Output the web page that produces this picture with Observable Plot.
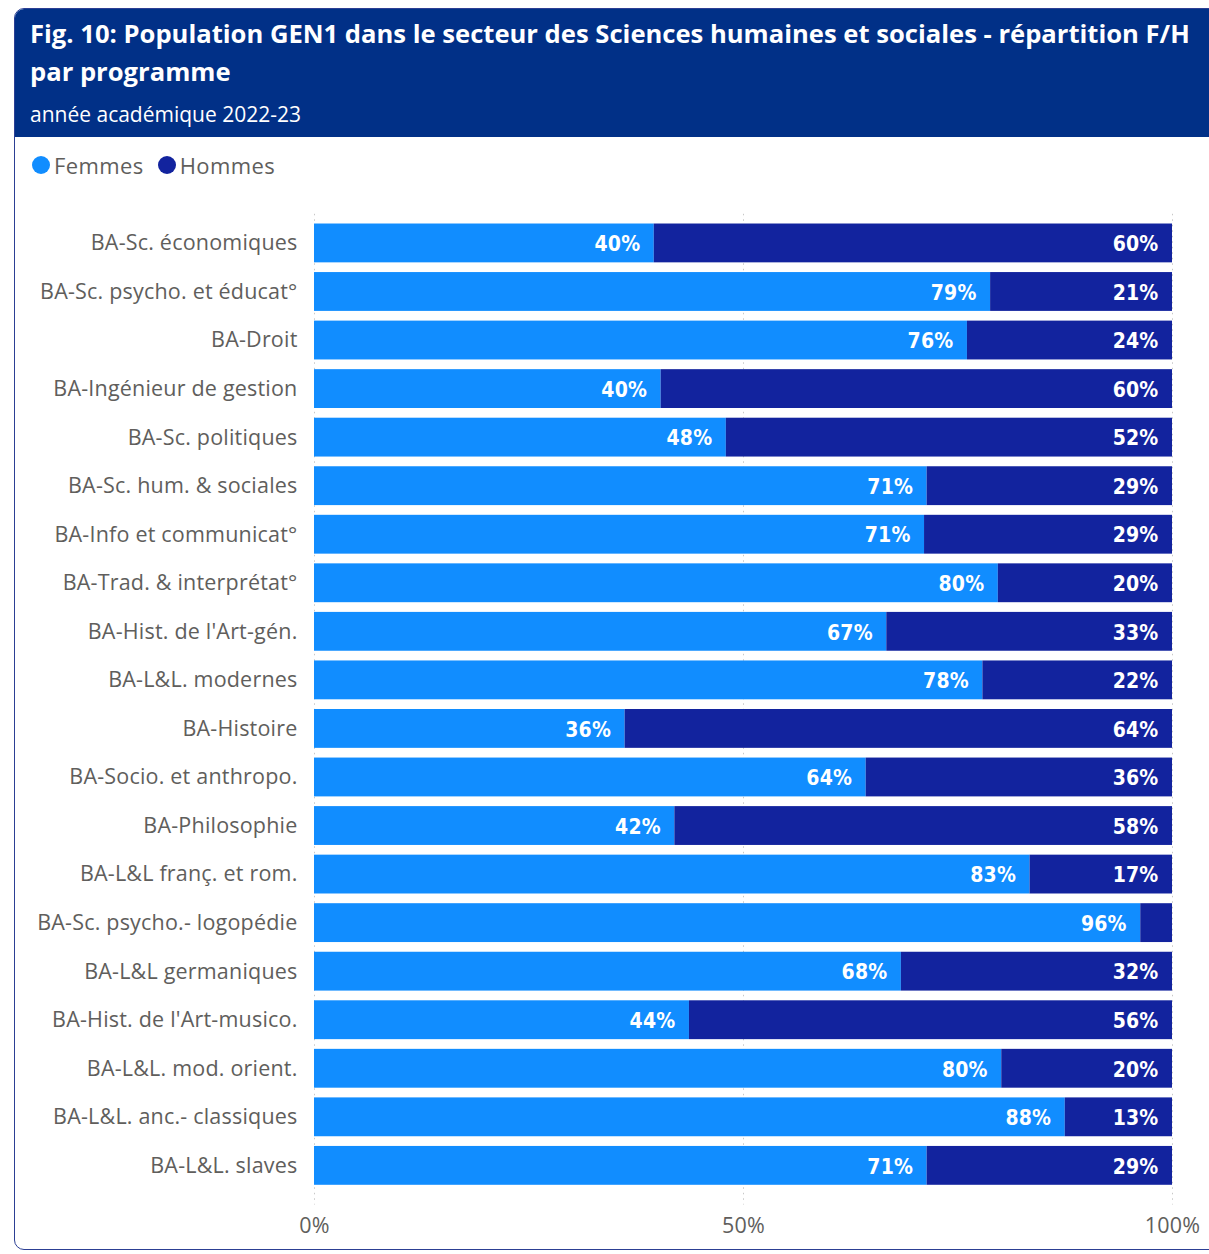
<!DOCTYPE html>
<html>
<head>
<meta charset="utf-8">
<script src="https://cdn.jsdelivr.net/npm/d3@7"></script>
<script src="https://cdn.jsdelivr.net/npm/@observablehq/plot@0.6"></script>
<style>
  html, body { margin: 0; padding: 0; width: 1209px; height: 1254px; overflow: hidden; background: #fff; }
  #card { position: absolute; left: 14px; top: 8px; width: 1230px; height: 1242px; border: 1.5px solid #2c3f94; border-radius: 10px; overflow: hidden; box-sizing: border-box; }
  #header { position: absolute; left: 0; top: 0; width: 100%; height: 128px; background: #013087; color: #fff; font-family: "Open Sans", sans-serif; }
  #title { position: absolute; left: 15px; top: 6px; width: 1175px; font-size: 25.6px; font-weight: 700; line-height: 38px; letter-spacing: 0px; }
  #subtitle { position: absolute; left: 15px; top: 91px; font-size: 21px; line-height: 28px; }
  #legend { position: absolute; left: 32px; top: 150px; font-family: "Open Sans", sans-serif; font-size: 22px; color: #605E5C; display: flex; align-items: center; letter-spacing: 0.4px; }
  .sw { display: inline-block; width: 18px; height: 18px; border-radius: 50%; margin-right: 4px; }
  .item { display: flex; align-items: center; margin-right: 14px; }
  #chart { position: absolute; left: 0; top: 190px; }
</style>
</head>
<body>
<div id="card">
  <div id="header">
    <div id="title">Fig. 10: Population GEN1 dans le secteur des Sciences humaines et sociales - répartition F/H par programme</div>
    <div id="subtitle">année académique 2022-23</div>
  </div>
</div>
<div id="legend"></div>
<div id="chart"></div>
<script>
const programmes = [
  "BA-Sc. économiques",
  "BA-Sc. psycho. et éducat°",
  "BA-Droit",
  "BA-Ingénieur de gestion",
  "BA-Sc. politiques",
  "BA-Sc. hum. & sociales",
  "BA-Info et communicat°",
  "BA-Trad. & interprétat°",
  "BA-Hist. de l'Art-gén.",
  "BA-L&L. modernes",
  "BA-Histoire",
  "BA-Socio. et anthropo.",
  "BA-Philosophie",
  "BA-L&L franç. et rom.",
  "BA-Sc. psycho.- logopédie",
  "BA-L&L germaniques",
  "BA-Hist. de l'Art-musico.",
  "BA-L&L. mod. orient.",
  "BA-L&L. anc.- classiques",
  "BA-L&L. slaves"
];
const femmes = [39.6, 78.8, 76.1, 40.4, 48.0, 71.4, 71.1, 79.7, 66.7, 77.9, 36.2, 64.3, 42.0, 83.4, 96.3, 68.4, 43.7, 80.1, 87.5, 71.4];
const hommes = [60.4, 21.2, 23.9, 59.6, 52.0, 28.6, 28.9, 20.3, 33.3, 22.1, 63.8, 35.7, 58.0, 16.6, 3.7, 31.6, 56.3, 19.9, 12.5, 28.6];
const series = ["Femmes", "Hommes"];
const colors = ["#118DFF", "#12239E"];
const xTicks = [0, 50, 100];

const rows = [];
programmes.forEach((p, i) => {
  rows.push({programme: p, sexe: "Femmes", value: femmes[i]});
  rows.push({programme: p, sexe: "Hommes", value: hommes[i]});
});

const legend = document.getElementById("legend");
series.forEach((s, i) => {
  const it = document.createElement("span");
  it.className = "item";
  it.innerHTML = `<span class="sw" style="background:${colors[i]}"></span>${s}`;
  legend.appendChild(it);
});

const chart = Plot.plot({
  width: 1209,
  height: 1064,
  marginLeft: 314,
  marginRight: 37,
  marginTop: 23.8,
  marginBottom: 59.5,
  style: {fontFamily: "Open Sans, sans-serif", fontSize: "21.5px", color: "#605E5C", background: "transparent", letterSpacing: "0.2px"},
  x: {domain: [0, 100], ticks: xTicks, tickFormat: d => d + "%", tickSize: 0, tickPadding: 23, label: null},
  y: {domain: programmes, padding: 0.2, round: false, tickSize: 0, tickPadding: 17, label: null},
  color: {domain: series, range: colors},
  marks: [
    Plot.ruleX(xTicks, {stroke: "#c8c8c8", strokeDasharray: "1.5,4", insetBottom: -10}),
    Plot.barX(rows, Plot.stackX({x: "value", y: "programme", fill: "sexe", order: series})),
    Plot.text(rows, Plot.stackX2({
      x: "value", y: "programme", z: "sexe", order: series,
      text: d => d.value >= 5 ? Math.round(d.value) + "%" : "",
      textAnchor: "end", dx: -14, dy: 1, fill: "white",
      fontWeight: "bold", fontSize: 21,
      fontFamily: "Liberation Sans Narrow, DejaVu Sans Condensed, sans-serif"
    }))
  ]
});
document.getElementById("chart").appendChild(chart);
</script>
</body>
</html>
